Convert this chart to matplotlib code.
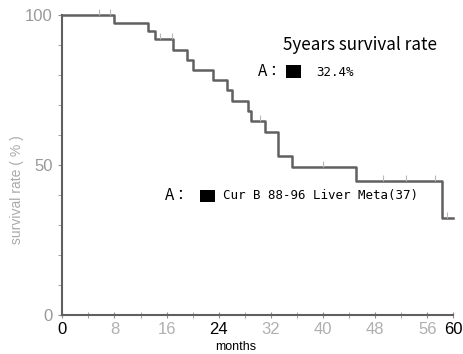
import matplotlib
matplotlib.use("Agg")
import matplotlib.pyplot as plt
from matplotlib.patches import Rectangle

# 생존 곡선 데이터
event_months = [0, 8.0, 13.2, 14.2, 17.0, 19.1, 20.1, 23.2, 25.2, 26.0, 28.5, 29.0, 31.1, 33.1, 35.2, 45.0, 58.2]
survival = [100, 97.3, 94.6, 91.9, 88.5, 85.1, 81.7, 78.3, 74.9, 71.5, 68.1, 64.7, 61.1, 53.0, 49.5, 44.6, 32.4]
end_month = 60.0
censor_months = [5.7, 7.3, 15.0, 16.8, 30.3, 40.0, 49.2, 52.8, 57.2, 59.0]

x_ticks = [0, 8, 16, 24, 32, 40, 48, 56, 60]
x_tick_labels = ['0', '8', '16', '24', '32', '40', '48', '56', '60']
x_tick_colors = ['black', '#b0b0b0', '#b0b0b0', 'black', '#b0b0b0', '#b0b0b0', '#b0b0b0', '#b0b0b0', 'black']
y_ticks = [0, 50, 100]
y_tick_labels = ['0', '50', '100']

W, H = 463, 354
FIG_COLOR = '#606060'
NARROW = ['Liberation Sans', 'DejaVu Sans']
JP = ['Noto Sans CJK JP', 'DejaVu Sans']
MONO = ['DejaVu Sans Mono']


def px(x, y):
    """픽셀 좌표(위에서부터) -> figure 좌표"""
    return x / W, 1 - y / H


def surv_at(t):
    val = survival[0]
    for m, s in zip(event_months, survival):
        if m <= t:
            val = s
    return val


fig = plt.figure(figsize=(W / 100, H / 100), dpi=100)
ax = fig.add_axes([62.3 / W, 1 - 315 / H, (453.3 - 62.3) / W, 300 / H])

# 계단형 곡선
xs = event_months + [end_month]
ys = survival + [survival[-1]]
ax.step(xs, ys, where='post', color=FIG_COLOR, lw=1.8, clip_on=False)

# 중도절단 표시
cens_y = [surv_at(t) for t in censor_months]
ax.plot(censor_months, [v + 1.0 for v in cens_y], linestyle='none', marker='|',
        markersize=4, color='#b8b8b8', mew=0.8, clip_on=False)

ax.set_xlim(0, 60)
ax.set_ylim(0, 100)
for side in ['top', 'right']:
    ax.spines[side].set_visible(False)
for side in ['left', 'bottom']:
    ax.spines[side].set_color(FIG_COLOR)
    ax.spines[side].set_linewidth(1.5)

ax.set_xticks(x_ticks)
ax.set_xticklabels(x_tick_labels, family=NARROW, fontsize=12)
for lab, c in zip(ax.get_xticklabels(), x_tick_colors):
    lab.set_color(c)
ax.set_xticks(list(range(4, 60, 4)), minor=True)
ax.tick_params(axis='x', which='both', direction='inout', length=4, color='#909090', pad=3)

ax.set_yticks(y_ticks)
ax.set_yticklabels(y_tick_labels, family=NARROW, fontsize=12, color='#999999')
ax.set_yticks(list(range(10, 100, 10)), minor=True)
ax.tick_params(axis='y', which='both', direction='out', length=3, color='#909090', pad=4)

# 축 제목
fig.text(*px(17, 190), 'survival rate ( % )', rotation=90, ha='center', va='center',
         fontsize=10, color='#aaaaaa', family=NARROW)
fig.text(*px(236, 347), 'months', ha='center', va='center', fontsize=9, color='black', family=NARROW)

# 범례 텍스트
fig.text(*px(360, 45), '5years survival rate', ha='center', va='center', fontsize=12.3, family=JP)
fig.text(*px(258, 72), 'A：', ha='left', va='center', fontsize=11, family=JP)
fig.patches.append(Rectangle(px(286, 78), 15 / W, 13 / H, transform=fig.transFigure,
                             facecolor='black', edgecolor='none'))
fig.text(*px(316, 72), '32.4%', ha='left', va='center', fontsize=9, family=MONO)

fig.text(*px(165, 196), 'A：', ha='left', va='center', fontsize=11, family=JP)
fig.patches.append(Rectangle(px(200, 202), 15 / W, 12 / H, transform=fig.transFigure,
                             facecolor='black', edgecolor='none'))
fig.text(*px(223, 196), 'Cur B 88-96 Liver Meta(37)', ha='left', va='center', fontsize=9, family=MONO)

fig.savefig('out.png', dpi=100)
